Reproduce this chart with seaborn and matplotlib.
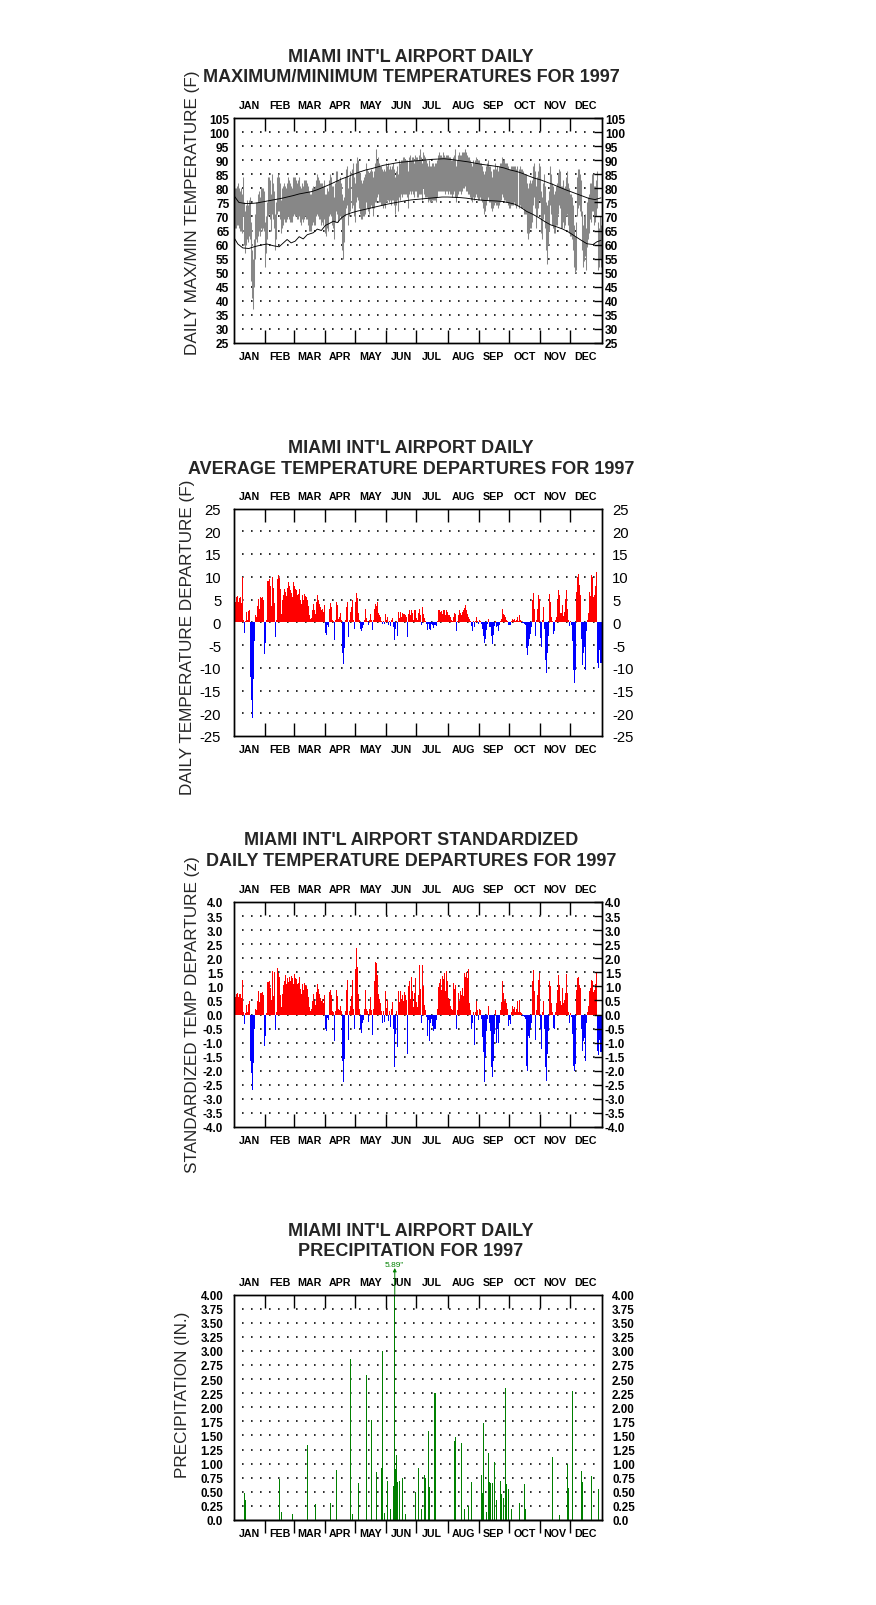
import numpy as np
import pandas as pd
import matplotlib
matplotlib.use("Agg")
import matplotlib.pyplot as plt
import seaborn as sns

# ---------------------------------------------------------------- data
months = ["JAN", "FEB", "MAR", "APR", "MAY", "JUN", "JUL", "AUG", "SEP", "OCT", "NOV", "DEC"]
month_lengths = [31, 28, 31, 30, 31, 30, 31, 31, 30, 31, 30, 31]

# daily maximum temperature (F), one line per month
tmax = [
    80, 80, 81, 82, 80, 79, 80, 78, 84, 75, 72, 74, 76, 74, 76, 77, 68, 58, 55, 62, 71, 75, 75, 78, 79, 77, 80, 80, 80, 79, 68,
    70, 75, 84, 84, 83, 78, 85, 82, 79, 71, 75, 84, 85, 84, 82, 76, 80, 81, 82, 81, 80, 82, 84, 83, 82, 81, 80, 84,
    84, 84, 83, 82, 83, 84, 81, 80, 82, 81, 83, 83, 83, 82, 81, 79, 78, 78, 80, 81, 80, 81, 83, 85, 84, 83, 82, 82, 82, 81, 83,
    78, 78, 80, 79, 83, 85, 84, 81, 81, 77, 82, 86, 86, 83, 83, 84, 82, 78, 76, 77, 84, 87, 88, 80, 84, 86, 87, 89, 84, 82,
    89, 91, 90, 86, 85, 83, 82, 83, 84, 85, 89, 87, 86, 85, 86, 87, 86, 84, 86, 89, 94, 90, 91, 89, 88, 88, 87, 86, 87, 86, 89,
    88, 89, 87, 88, 87, 88, 89, 87, 84, 86, 88, 85, 90, 89, 90, 90, 91, 91, 90, 90, 90, 86, 91, 92, 90, 91, 91, 89, 92, 91,
    91, 90, 92, 94, 91, 89, 93, 92, 91, 90, 89, 88, 90, 88, 88, 89, 89, 88, 89, 89, 90, 92, 93, 92, 92, 91, 93, 92, 91, 92, 92,
    92, 91, 91, 90, 90, 91, 92, 94, 88, 90, 92, 93, 92, 92, 93, 93, 93, 94, 93, 92, 91, 91, 90, 89, 88, 90, 89, 90, 91, 90, 90,
    90, 89, 89, 88, 86, 85, 86, 88, 89, 90, 88, 88, 86, 84, 87, 87, 89, 87, 88, 86, 88, 89, 89, 91, 90, 90, 89, 89, 89, 88,
    87, 87, 88, 88, 88, 88, 88, 87, 88, 87, 88, 87, 87, 86, 85, 85, 85, 82, 80, 82, 83, 82, 83, 88, 89, 86, 81, 84, 86, 89, 88,
    79, 77, 82, 85, 81, 75, 74, 76, 79, 88, 85, 82, 81, 78, 79, 81, 82, 85, 87, 86, 81, 81, 83, 80, 81, 84, 86, 82, 80, 78,
    78, 77, 74, 67, 63, 68, 84, 87, 87, 85, 83, 72, 67, 70, 71, 66, 75, 77, 78, 82, 82, 85, 85, 81, 81, 83, 86, 68, 66, 70, 67,
]
# daily minimum temperature (F)
tmin = [
    66, 66, 67, 67, 66, 65, 65, 64, 70, 60, 57, 60, 62, 61, 63, 62, 47, 41, 37, 45, 55, 62, 61, 63, 65, 63, 66, 65, 66, 65, 52,
    57, 62, 70, 71, 69, 65, 71, 69, 66, 58, 62, 71, 72, 72, 69, 64, 66, 67, 69, 68, 68, 69, 70, 69, 68, 68, 68, 70,
    71, 70, 70, 69, 69, 70, 68, 67, 69, 68, 69, 70, 69, 69, 67, 65, 65, 65, 67, 68, 67, 67, 70, 71, 70, 69, 69, 67, 68, 67, 69,
    64, 63, 66, 65, 70, 71, 70, 67, 66, 62, 68, 72, 71, 68, 69, 70, 69, 58, 55, 61, 70, 73, 74, 67, 70, 72, 73, 74, 70, 68,
    75, 77, 76, 73, 71, 69, 69, 70, 70, 71, 75, 73, 72, 71, 73, 74, 73, 70, 73, 75, 75, 77, 78, 75, 75, 74, 74, 73, 74, 73, 75,
    76, 76, 75, 76, 74, 76, 76, 74, 71, 74, 76, 72, 77, 76, 78, 77, 78, 78, 78, 78, 77, 73, 78, 79, 78, 79, 78, 77, 79, 79,
    77, 77, 78, 78, 78, 76, 80, 78, 77, 77, 77, 75, 76, 75, 75, 76, 76, 76, 76, 75, 77, 79, 79, 79, 79, 79, 79, 79, 78, 79, 79,
    78, 79, 78, 78, 77, 78, 79, 77, 75, 77, 78, 79, 79, 78, 79, 80, 80, 81, 79, 79, 78, 78, 77, 76, 75, 77, 76, 77, 78, 77, 76,
    76, 77, 76, 75, 73, 71, 72, 74, 76, 77, 75, 75, 73, 72, 73, 74, 75, 74, 74, 73, 74, 75, 76, 78, 77, 76, 76, 75, 75, 74,
    73, 73, 74, 74, 74, 75, 74, 73, 74, 73, 74, 73, 73, 73, 71, 71, 71, 64, 62, 64, 66, 66, 68, 74, 77, 73, 66, 70, 73, 76, 75,
    64, 62, 69, 71, 66, 58, 53, 60, 65, 74, 71, 67, 66, 64, 64, 67, 67, 71, 74, 73, 66, 66, 68, 66, 67, 70, 71, 67, 64, 63,
    63, 62, 58, 52, 50, 51, 70, 73, 74, 72, 70, 58, 52, 54, 56, 51, 59, 62, 64, 69, 68, 72, 72, 67, 68, 70, 73, 51, 52, 55, 52,
]

# normal max / min curves, read at selected days of the year
normal_max_day = [0, 4, 10, 16, 22, 28, 34, 40, 46, 52, 58, 64, 70, 76, 82, 88, 94, 100, 106, 112, 118, 124, 130,
                  136, 142, 148, 154, 160, 166, 172, 178, 184, 190, 196, 202, 208, 214, 220, 226, 232, 238, 244,
                  250, 256, 262, 268, 274, 280, 286, 292, 298, 304, 310, 316, 322, 328, 334, 340, 346, 352, 358, 364]
normal_max = [77.0, 75.0, 74.6, 74.6, 74.8, 75.2, 75.6, 76.0, 76.4, 76.9, 77.4, 78.0, 78.4, 78.8, 79.5, 80.4, 81.3,
              82.3, 83.3, 84.1, 85.0, 85.8, 86.5, 87.0, 87.6, 88.2, 88.6, 89.0, 89.3, 89.5, 89.7, 89.9, 90.1, 90.3,
              90.4, 90.5, 90.3, 90.0, 89.7, 89.4, 89.0, 88.6, 88.3, 88.0, 87.7, 87.2, 86.5, 86.0, 85.3, 84.4, 83.6,
              83.0, 82.2, 81.4, 80.5, 79.6, 78.8, 78.0, 77.2, 76.4, 76.0, 76.6]
normal_min_day = [0, 3, 8, 14, 20, 26, 32, 38, 44, 48, 52, 56, 60, 64, 68, 72, 78, 82, 86, 90, 94, 98, 102, 106,
                  110, 116, 122, 128, 134, 140, 146, 152, 158, 164, 170, 176, 182, 188, 194, 200, 206, 212, 218,
                  224, 230, 236, 242, 248, 254, 260, 266, 272, 278, 284, 290, 296, 302, 308, 314, 320, 326, 332,
                  338, 344, 350, 356, 360, 364]
normal_min = [62.0, 60.2, 58.8, 58.6, 59.3, 59.8, 60.2, 59.6, 59.2, 60.5, 61.8, 60.6, 61.2, 62.8, 62.0, 63.5, 64.2,
              65.5, 65.0, 66.8, 67.5, 68.3, 67.8, 69.5, 70.5, 71.3, 71.9, 72.4, 72.9, 73.4, 73.9, 74.4, 74.8, 75.2,
              75.6, 75.9, 76.1, 76.3, 76.5, 76.7, 76.9, 76.9, 76.8, 76.7, 76.5, 76.2, 75.9, 75.7, 75.6, 75.5, 75.3,
              74.9, 74.4, 73.3, 71.8, 70.8, 69.6, 68.2, 67.0, 66.3, 65.5, 64.4, 63.0, 61.6, 60.3, 60.0, 61.0, 61.5]

# daily average temperature departure (F)
departure = [
    4.2, 4.5, 5.5, 5.7, 4.5, 5.3, 5.5, 4.2, 10.0, 0.5, -2.3, 0.3, 2.3, 0.5, 2.5, 2.7, -12.0, -17.0, -21.0, -12.5, -4.2, 1.5, 1.2, 3.5, 5.2, 3.0, 5.5, 5.3, 5.6, 5.0, -7.0,
    -4.6, 0.4, 9.0, 9.6, 8.0, 3.5, 10.0, 7.5, 4.2, -3.3, 0.5, 9.6, 10.4, 9.8, 7.3, 1.8, 4.8, 6.0, 7.3, 6.6, 5.7, 7.5, 8.8, 8.0, 7.0, 6.5, 5.6, 8.9,
    8.0, 7.2, 7.0, 6.0, 6.2, 7.3, 5.0, 4.0, 6.0, 4.8, 6.2, 5.7, 5.5, 5.0, 3.5, 1.5, 0.7, 1.0, 2.6, 4.0, 2.6, 1.8, 4.4, 6.0, 5.0, 4.0, 3.3, 2.6, 3.0, 2.2, 3.8,
    -2.4, -2.7, -0.5, -1.0, 3.0, 4.3, 3.3, 0.5, 0.3, -3.8, 0.5, 4.4, 3.7, 0.8, 1.1, 2.0, 0.5, -6.8, -9.2, -5.7, 0.4, 3.3, 4.4, -3.2, 0.5, 2.2, 3.3, 4.8, 0.5, -1.5,
    4.4, 6.5, 5.3, 2.0, 0.5, -1.5, -2.0, -1.3, -0.7, 0.5, 3.0, 0.9, 0.3, -0.7, 0.5, 1.8, 0.4, -1.8, 0.5, 3.0, 4.0, 3.5, 4.4, 2.0, 1.5, 1.1, 0.3, -0.4, 0.3, -0.4, 1.8,
    0.5, 1.1, -0.5, 0.3, -0.9, 0.4, 0.9, -1.1, -4.0, -1.5, 0.3, -3.0, 2.2, 1.0, 2.3, 1.2, 2.0, 1.8, 1.8, 1.5, 1.1, -3.2, 1.8, 2.8, 1.5, 2.6, 2.1, 0.5, 2.8, 2.6,
    1.0, 0.5, 2.1, 3.0, 1.6, -0.5, 3.4, 1.9, 0.9, 0.3, -0.3, -1.6, -0.3, -1.5, -1.8, -0.4, -0.6, -1.3, -0.6, -0.9, 0.3, 2.6, 2.8, 2.3, 2.4, 1.8, 2.7, 2.6, 1.6, 2.6, 2.2,
    1.5, 1.5, 1.1, 0.4, 0.3, 1.1, 2.1, 1.9, -1.9, 0.3, 1.5, 2.6, 2.1, 1.6, 2.3, 2.8, 3.1, 3.9, 2.6, 1.9, 1.2, 0.8, 0.3, -0.9, -1.9, 0.3, -1.0, 0.2, 1.1, 0.3, -0.3,
    0.5, 0.3, -0.3, -1.5, -3.0, -4.6, -3.6, -1.8, -0.3, 0.8, -1.1, -1.0, -3.0, -4.8, -2.8, -0.9, 0.3, -1.1, -0.9, -1.9, -0.5, 0.3, 0.8, 3.0, 1.9, 1.5, 1.1, 0.5, 0.3, -0.7,
    -0.7, -0.6, 0.3, 0.7, 0.4, 0.8, 0.3, 0.5, 1.1, 0.3, 1.6, 0.4, 0.2, -0.15, -0.15, -0.3, -0.5, -5.6, -7.2, -5.2, -3.6, -2.5, -1.0, 4.8, 6.5, 3.0, -3.0, 0.5, 3.0, 6.0, 5.2,
    -3.4, -5.4, 0.5, 3.3, -1.5, -8.4, -11.2, -6.7, -3.0, 6.1, 4.5, 1.1, 0.3, -2.5, -1.9, 0.5, 1.1, 4.8, 7.1, 6.0, 2.1, 2.0, 3.7, 1.3, 2.2, 5.2, 7.1, 3.0, 0.5, -0.9,
    0.3, -0.5, -4.1, -10.4, -13.4, -10.4, 6.7, 10.0, 10.6, 8.2, 6.0, -3.7, -9.5, -6.7, -5.5, -10.6, -1.9, 0.5, 2.0, 6.7, 5.8, 10.3, 10.0, 5.5, 6.0, 8.0, 11.0, -9.0, -10.0, -6.0, -9.0,
]

# standardized daily temperature departure (z)
zscore = [
    0.56, 0.62, 0.74, 0.78, 0.62, 0.72, 0.74, 0.58, 1.22, 0.08, -0.35, 0.05, 0.33, 0.08, 0.36, 0.47, -1.65, -2.08, -2.68, -1.73, -0.53, 0.2, 0.16, 0.47, 0.82, 0.45, 0.78, 0.76, 0.8, 0.7, -1.12,
    -0.76, 0.06, 1.14, 1.2, 0.94, 0.5, 1.56, 0.65, 1.5, -0.55, 0.08, 1.67, 1.47, 1.35, 0.68, 0.28, 0.74, 1.06, 1.2, 1.41, 1.1, 1.29, 1.15, 1.35, 1.2, 1.38, 1.29, 1.08,
    1.45, 1.31, 1.27, 1.09, 1.13, 1.33, 0.91, 0.73, 1.09, 0.87, 1.13, 1.04, 1.0, 0.91, 0.64, 0.27, 0.13, 0.18, 0.47, 0.73, 0.47, 0.33, 0.8, 1.09, 0.91, 0.73, 0.6, 0.47, 0.55, 0.4, 0.69,
    -0.5, -0.6, -0.13, -0.2, 0.79, 0.88, 0.7, 0.13, 0.08, -0.94, 0.13, 0.88, 0.65, 0.21, 0.15, 0.3, 0.13, -1.67, -2.39, -1.59, 0.11, 0.88, 1.24, -0.91, 0.13, 0.3, 0.65, 1.24, 0.2, -0.5,
    1.62, 2.38, 1.7, 0.74, 0.19, -0.5, -0.65, -0.3, -0.2, 0.19, 0.88, 0.18, 0.11, -0.26, 0.19, 0.61, 0.15, -0.74, 0.19, 1.2, 1.86, 1.82, 1.41, 0.74, 0.56, 0.41, 0.11, -0.3, 0.11, -0.25, 0.82,
    0.24, 0.52, -0.24, 0.14, -0.43, 0.19, 0.43, -0.52, -1.88, -0.7, 0.14, -1.14, 0.85, 0.45, 0.85, 0.55, 0.7, 0.47, 0.8, 0.7, 0.5, -1.41, 1.0, 1.2, 0.56, 1.32, 0.82, 0.25, 0.76, 1.29,
    0.45, 0.25, 0.7, 1.76, 0.9, -0.3, 1.76, 1.0, 0.35, 0.15, -0.1, -0.76, -0.2, -0.94, -0.3, -0.15, -0.4, -0.59, -0.5, -0.2, 0.2, 0.97, 1.12, 1.27, 0.88, 1.38, 1.27, 1.47, 0.85, 1.53, 1.2,
    0.6, 0.5, 0.3, 0.2, 0.15, 1.12, 0.9, 1.06, -0.5, 0.15, 0.76, 0.47, 0.82, 0.7, 0.94, 0.65, 1.47, 1.35, 1.5, 1.29, 1.62, 0.4, 0.15, -0.53, -0.3, 0.1, -1.08, 0.1, 0.47, 0.15, -0.2,
    0.2, 0.15, -0.15, -0.79, -1.35, -2.41, -1.5, -0.59, -0.15, 0.3, -0.3, -0.59, -1.88, -2.21, -1.65, -0.7, 0.15, -1.0, -0.5, -1.0, -0.3, 0.15, 0.45, 1.2, 0.76, 0.47, 0.55, 0.4, 0.2, -0.41,
    -0.2, -0.35, 0.1, 0.3, 0.18, 0.25, 0.1, 0.2, 0.47, 0.1, 0.5, 0.1, 0.05, -0.06, -0.06, -0.1, -0.15, -1.82, -2.0, -0.76, -0.82, -0.47, -0.3, 1.2, 1.59, 0.82, -0.9, 0.15, 0.7, 1.24, 1.47,
    -0.53, -1.24, 0.1, 0.47, -0.53, -1.86, -2.35, -1.41, -0.6, 1.18, 1.0, 0.41, 0.1, -0.47, -0.5, 0.1, 0.41, 0.88, 1.41, 1.06, 0.47, 0.35, 0.94, 0.41, 0.5, 0.76, 1.44, 0.76, 0.1, -0.3,
    0.05, -0.1, -0.7, -1.82, -2.02, -1.76, 0.88, 1.29, 1.33, 1.06, 0.94, -0.5, -1.29, -0.94, -0.82, -1.65, -0.3, 0.1, 0.3, 0.82, 0.94, 1.24, 1.18, 0.8, 0.88, 1.1, 1.5, -1.3, -1.45, -0.9, -1.35,
]

# daily precipitation (in.): day-of-year index (0 = Jan 1) and amount, wet days only
precip_day = [10, 11, 44, 46, 57, 72, 80, 95, 101, 115, 117, 123, 131, 136, 141, 146, 147, 149, 152, 155, 158,
              159, 160, 161, 162, 164, 167, 170, 180, 183, 186, 189, 190, 193, 194, 199, 218, 219, 225, 228,
              232, 235, 245, 246, 247, 250, 252, 253, 254, 256, 258, 260, 264, 265, 267, 269, 270, 272, 275,
              283, 288, 289, 316, 323, 331, 332, 336, 345, 346, 355, 362]
precip_amt = [0.48, 0.35, 0.73, 0.15, 0.10, 1.33, 0.28, 0.30, 0.89, 2.85, 0.10, 0.65, 2.57, 1.77, 0.85, 0.92,
              3.00, 0.12, 0.70, 0.20, 0.61, 5.89, 0.91, 1.16, 0.68, 0.70, 0.75, 0.10, 0.50, 0.92, 0.20, 0.79,
              0.75, 1.58, 0.58, 2.26, 1.40, 1.47, 1.36, 0.20, 0.25, 0.67, 0.80, 0.48, 1.72, 0.15, 1.19, 0.68,
              0.65, 0.65, 1.03, 0.35, 0.70, 0.46, 0.39, 2.35, 0.63, 0.55, 0.20, 0.30, 0.64, 0.20, 1.12, 0.08,
              1.00, 0.57, 2.29, 0.87, 0.67, 0.78, 0.55]

# y tick values and labels
maxmin_ticks = [25, 30, 35, 40, 45, 50, 55, 60, 65, 70, 75, 80, 85, 90, 95, 100, 105]
maxmin_labels = ["25", "30", "35", "40", "45", "50", "55", "60", "65", "70", "75", "80", "85", "90", "95", "100", "105"]
dep_ticks = [-25, -20, -15, -10, -5, 0, 5, 10, 15, 20, 25]
dep_labels = ["-25", "-20", "-15", "-10", "-5", "0", "5", "10", "15", "20", "25"]
z_ticks = [-4.0, -3.5, -3.0, -2.5, -2.0, -1.5, -1.0, -0.5, 0.0, 0.5, 1.0, 1.5, 2.0, 2.5, 3.0, 3.5, 4.0]
z_labels = ["-4.0", "-3.5", "-3.0", "-2.5", "-2.0", "-1.5", "-1.0", "-0.5", "0.0", "0.5", "1.0", "1.5",
            "2.0", "2.5", "3.0", "3.5", "4.0"]
precip_ticks = [0.0, 0.25, 0.5, 0.75, 1.0, 1.25, 1.5, 1.75, 2.0, 2.25, 2.5, 2.75, 3.0, 3.25, 3.5, 3.75, 4.0]
precip_labels = ["0.0", "0.25", "0.50", "0.75", "1.00", "1.25", "1.50", "1.75", "2.00", "2.25", "2.50",
                 "2.75", "3.00", "3.25", "3.50", "3.75", "4.00"]

titles = [
    ("MIAMI INT'L AIRPORT DAILY", "MAXIMUM/MINIMUM TEMPERATURES FOR 1997"),
    ("MIAMI INT'L AIRPORT DAILY", "AVERAGE TEMPERATURE DEPARTURES FOR 1997"),
    ("MIAMI INT'L AIRPORT STANDARDIZED", "DAILY TEMPERATURE DEPARTURES FOR 1997"),
    ("MIAMI INT'L AIRPORT DAILY", "PRECIPITATION FOR 1997"),
]
ylabels = ["DAILY MAX/MIN TEMPERATURE (F)", "DAILY TEMPERATURE DEPARTURE (F)",
           "STANDARDIZED TEMP DEPARTURE (z)", "PRECIPITATION (IN.)"]

assert len(tmax) == len(tmin) == len(departure) == len(zscore) == 365
assert len(precip_day) == len(precip_amt)

# ---------------------------------------------------------------- style
sns.set_theme(style="white")
plt.rcParams["font.family"] = ["Liberation Sans", "DejaVu Sans"]
plt.rcParams["lines.scale_dashes"] = False
plt.rcParams["axes.unicode_minus"] = False

W, H, DPI = 876, 1606, 100
PT = 72.0 / DPI          # points per pixel
fig = plt.figure(figsize=(W / DPI, H / DPI), dpi=DPI)
fig.patch.set_facecolor("white")

X0, X1 = 234.3, 601.5
panel_box = [(119.0, 344.0), (509.5, 737.0), (903.0, 1128.0), (1295.5, 1521.0)]
title_y = [(57.0, 77.5), (448.5, 469.0), (841.0, 861.5), (1232.0, 1251.5)]
ylabel_pos = [(192.5, 213.0), (187.5, 637.0), (192.0, 1015.0), (183.0, 1394.5)]
TITLE_X = 411.0

edges = np.concatenate([[0], np.cumsum(month_lengths)])
bounds = edges[1:-1]
centers = (edges[:-1] + edges[1:]) / 2.0
day_x = np.arange(365) + 0.5

frame = pd.DataFrame({"x": day_x, "tmax": tmax, "tmin": tmin, "dep": departure, "z": zscore})
rain = np.zeros(365)
rain[precip_day] = precip_amt
frame["rain"] = rain


def make_axes(i):
    y0, y1 = panel_box[i]
    return fig.add_axes([X0 / W, 1 - y1 / H, (X1 - X0) / W, (y1 - y0) / H])


def style_panel(ax, ylim, ticks, labels, lpad, rpad, rlen, fsize, fweight, bottom_out=False):
    axr = ax.twinx()
    ax.set_xlim(0, 365)
    ax.set_ylim(*ylim)
    axr.set_ylim(*ylim)
    for a in (ax, axr):
        for s in a.spines.values():
            s.set_linewidth(1.4 * PT)
            s.set_color("black")
            s.set_zorder(6)
    # dotted horizontal guides
    for v in ticks[1:-1]:
        ax.axhline(v, color="black", lw=1.6 * PT, ls=(1.0 * PT, (1.6 * PT, 7.4 * PT)), zorder=0.6)
    # month boundary ticks and month names
    ax.set_xticks(bounds)
    ax.set_xticklabels([])
    ax.set_xticks(centers, minor=True)
    ax.set_xticklabels(months, minor=True, fontsize=7.7, fontweight="bold")
    ax.tick_params(axis="x", which="major", direction="in", length=13 * PT, width=1.4 * PT,
                   top=True, bottom=not bottom_out, labeltop=False, labelbottom=False, color="black")
    ax.tick_params(axis="x", which="minor", length=0, top=True, bottom=True,
                   labeltop=True, labelbottom=True, pad=5.5, labelcolor="black")
    if bottom_out:
        sec = ax.secondary_xaxis("bottom")
        sec.set_xticks(bounds)
        sec.set_xticklabels([])
        sec.tick_params(axis="x", which="both", direction="out", length=13 * PT, width=1.4 * PT,
                        color="black", labelbottom=False)
        sec.spines["bottom"].set_linewidth(1.4 * PT)
        sec.spines["bottom"].set_color("black")
    # y tick labels, left (no tick marks) and right (inward ticks)
    ax.set_yticks(ticks)
    ax.set_yticklabels(labels, fontsize=fsize, fontweight=fweight)
    ax.tick_params(axis="y", left=False, right=False, length=0, labelleft=True, labelright=False,
                   pad=lpad, labelcolor="black")
    axr.set_yticks(ticks)
    axr.set_yticklabels(labels, fontsize=fsize, fontweight=fweight)
    axr.tick_params(axis="y", right=True, left=False, direction="in", length=rlen, width=1.4 * PT,
                    pad=rpad, labelcolor="black", color="black")
    ax.grid(False)
    axr.grid(False)
    return axr


# ---------------- panel 1 : daily max / min
ax1 = make_axes(0)
ax1.vlines(frame["x"], frame["tmin"], frame["tmax"], color="#878787", lw=1.05 * PT, zorder=2)
sns.lineplot(x=np.array(normal_max_day) + 0.5, y=normal_max, ax=ax1, color="black",
             linewidth=0.9 * PT, estimator=None, sort=False, zorder=3)
sns.lineplot(x=np.array(normal_min_day) + 0.5, y=normal_min, ax=ax1, color="black",
             linewidth=0.9 * PT, estimator=None, sort=False, zorder=3)
style_panel(ax1, (25, 105), maxmin_ticks, maxmin_labels, 3.6, 2.4, 8 * PT, 8.6, "bold")

# ---------------- panel 2 : departures
ax2 = make_axes(1)
dep = frame["dep"].to_numpy()
ax2.bar(frame["x"], dep, width=1.0, color=np.where(dep >= 0, "#ff0000", "#0000ff"), linewidth=0, zorder=2)
style_panel(ax2, (-25, 25), dep_ticks, dep_labels, 9.4, 7.6, 0, 10.7, "normal")

# ---------------- panel 3 : standardized departures
ax3 = make_axes(2)
zz = frame["z"].to_numpy()
ax3.bar(frame["x"], zz, width=1.0, color=np.where(zz >= 0, "#ff0000", "#0000ff"), linewidth=0, zorder=2)
style_panel(ax3, (-4, 4), z_ticks, z_labels, 8.0, 2.4, 8 * PT, 8.4, "bold")

# ---------------- panel 4 : precipitation
ax4 = make_axes(3)
PMAX = 4.0
rr = frame["rain"].to_numpy()
ax4.bar(frame["x"], np.minimum(rr, PMAX), width=1.0, color="#008000", linewidth=0, zorder=2)
style_panel(ax4, (0, PMAX), precip_ticks, precip_labels, 8.0, 7.6, 0, 8.4, "bold", bottom_out=True)
for d, v in zip(precip_day, precip_amt):
    if v > PMAX:
        ax4.annotate("", xy=(d + 0.5, PMAX), xycoords="data", xytext=(0, 26.5 * PT),
                     textcoords="offset points", annotation_clip=False,
                     arrowprops=dict(arrowstyle="<|-", color="#008000", lw=1.0 * PT,
                                     shrinkA=0, shrinkB=0, mutation_scale=5))
        ax4.annotate(f'{v:.2f}"', xy=(d + 0.5, PMAX), xycoords="data", xytext=(0, 26.5 * PT),
                     textcoords="offset points", ha="center", va="bottom", color="#008000",
                     fontsize=6.0, annotation_clip=False)

# ---------------- titles and y labels
for (l1, l2), (ya, yb) in zip(titles, title_y):
    fig.text(TITLE_X / W, 1 - ya / H, l1, ha="center", va="center", fontsize=13.0, fontweight="bold")
    fig.text(TITLE_X / W, 1 - yb / H, l2, ha="center", va="center", fontsize=13.0, fontweight="bold")
for lab, (lx, ly) in zip(ylabels, ylabel_pos):
    fig.text(lx / W, 1 - ly / H, lab, rotation=90, ha="center", va="center", fontsize=12.3)

fig.savefig("out.png", dpi=DPI, facecolor="white")
